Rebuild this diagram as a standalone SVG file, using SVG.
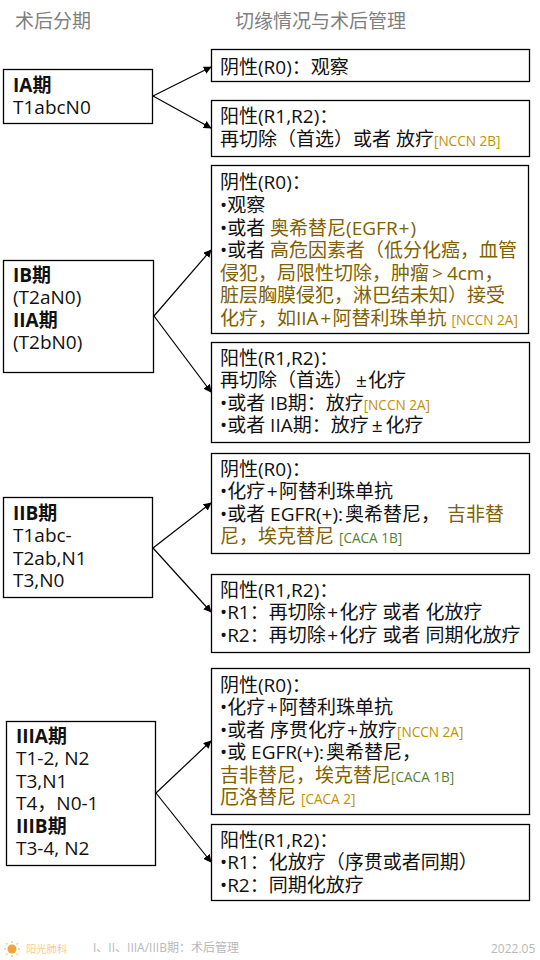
<svg xmlns="http://www.w3.org/2000/svg" width="540" height="960" viewBox="0 0 540 960">
<defs>
<marker id="arr" viewBox="0 0 10 10" refX="9" refY="5" markerWidth="8" markerHeight="8" orient="auto" markerUnits="userSpaceOnUse"><path d="M0 0L10 5L0 10Z" fill="#000"/></marker>
</defs>
<style>
text{font-family:"Open Sans","Noto Sans CJK SC",sans-serif;font-size:19px;fill:#111}
.box{fill:#fff;stroke:#000;stroke-width:1.3}
.b{font-weight:700}
.g{fill:#806000}
.r{font-size:13.6px;fill:#bf9000}
.v{font-size:13.6px;fill:#548235}
.h{fill:#7f7f7f}
.f{font-size:12px;fill:#b8b8b8}
.l{font-size:10.3px;fill:#f6cf8a}
.c{stroke:#000;stroke-width:1.2;fill:none;marker-end:url(#arr)}
</style>
<rect width="540" height="960" fill="#fff"/>
<text id="title-left" class="h" x="15" y="28">术后分期</text>
<text id="title-right" class="h" x="235" y="28">切缘情况与术后管理</text>
<g id="connectors">
<path class="c" d="M153 96L211 67"/><path class="c" d="M153 96L211 128"/>
<path class="c" d="M154 316L211 250"/><path class="c" d="M154 316L211 392"/>
<path class="c" d="M153 548L211 503"/><path class="c" d="M153 548L211 612"/>
<path class="c" d="M156 793L211 741"/><path class="c" d="M156 793L211 862"/>
</g>
<g id="n-ia"><rect class="box" x="3.500" y="69.500" width="149" height="54"/>
<text x="13" y="92" class="b">IA期</text><text x="13" y="114">T1abcN0</text></g>
<g id="n-ib"><rect class="box" x="3.500" y="260.500" width="150" height="112"/>
<text x="13" y="282" class="b">IB期</text><text x="13" y="304">(T2aN0)</text><text x="13" y="327" class="b">IIA期</text><text x="13" y="349">(T2bN0)</text></g>
<g id="n-iib"><rect class="box" x="3.500" y="497.500" width="149" height="100"/>
<text x="13" y="520" class="b">IIB期</text><text x="13" y="542">T1abc-</text><text x="13" y="565">T2ab,N1</text><text x="13" y="587">T3,N0</text></g>
<g id="n-iii"><rect class="box" x="6.500" y="721.500" width="149" height="144"/>
<text x="16" y="743" class="b">IIIA期</text><text x="16" y="765">T1-2, N2</text><text x="16" y="788">T3,N1</text><text x="16" y="810">T4，N0-1</text><text x="16" y="833" class="b">IIIB期</text><text x="16" y="855">T3-4, N2</text></g>
<g id="n-ia-r0"><rect class="box" x="211.500" y="49.500" width="318" height="32"/>
<text x="220" y="74">阴性(R0)：观察</text></g>
<g id="n-ia-r1"><rect class="box" x="211.500" y="100.500" width="318" height="56"/>
<text x="220" y="123">阳性(R1,R2)：</text><text x="220" y="146">再切除（首选）或者 放疗<tspan class="r">[NCCN 2B]</tspan></text></g>
<g id="n-ib-r0"><rect class="box" x="211.500" y="165.500" width="317" height="168"/>
<text x="220" y="189">阴性(R0)：</text><text x="220" y="212">•观察</text><text x="220" y="235">•或者 <tspan class="g">奥希替尼(EGFR<tspan dx="1">+</tspan><tspan dx="1">)</tspan></tspan></text><text x="220" y="257">•或者 <tspan class="g">高危因素者（低分化癌，血管</tspan></text><text x="220" y="280" class="g">侵犯，局限性切除，肿瘤<tspan dx="3">&gt;</tspan><tspan dx="4">4cm</tspan>，</text><text x="220" y="302" class="g">脏层胸膜侵犯，淋巴结未知）接受</text><text x="220" y="325" class="g">化疗，如IIA<tspan dx="1.500">+</tspan><tspan dx="1.500">阿替利珠单抗</tspan> <tspan class="r">[NCCN 2A]</tspan></text></g>
<g id="n-ib-r1"><rect class="box" x="211.500" y="342.500" width="318" height="100"/>
<text x="220" y="365">阳性(R1,R2)：</text><text x="220" y="387">再切除（首选）<tspan dx="3">±</tspan><tspan dx="1">化疗</tspan></text><text x="220" y="410">•或者 IB期：放疗<tspan class="r">[NCCN 2A]</tspan></text><text x="220" y="432">•或者 IIA期：放疗<tspan dx="3">±</tspan><tspan dx="3">化疗</tspan></text></g>
<g id="n-iib-r0"><rect class="box" x="211.500" y="453.500" width="318" height="100"/>
<text x="220" y="476">阴性(R0)：</text><text x="220" y="498">•化疗<tspan dx="1.500">+</tspan><tspan dx="1.500">阿替利珠单抗</tspan></text><text x="220" y="521">•或者 EGFR(+):<tspan dx="2">奥希替尼，</tspan><tspan class="g" dx="7">吉非替</tspan></text><text x="220" y="543"><tspan class="g">尼，埃克替尼</tspan> <tspan class="v">[CACA 1B]</tspan></text></g>
<g id="n-iib-r1"><rect class="box" x="211.500" y="574.500" width="318" height="78"/>
<text x="220" y="597">阳性(R1,R2)：</text><text x="220" y="619">•R1：再切除<tspan dx="1.500">+</tspan><tspan dx="1.500">化疗</tspan> 或者 化放疗</text><text x="220" y="642">•R2：再切除<tspan dx="1.500">+</tspan><tspan dx="1.500">化疗</tspan> 或者 同期化放疗</text></g>
<g id="n-iii-r0"><rect class="box" x="211.500" y="668.500" width="318" height="146"/>
<text x="220" y="692">阴性(R0)：</text><text x="220" y="714">•化疗<tspan dx="1.500">+</tspan><tspan dx="1.500">阿替利珠单抗</tspan></text><text x="220" y="737">•或者 序贯化疗<tspan dx="1">+</tspan><tspan dx="1">放疗</tspan><tspan class="r">[NCCN 2A]</tspan></text><text x="220" y="759">•或 EGFR(+):<tspan dx="2">奥希替尼，</tspan></text><text x="220" y="782"><tspan class="g">吉非替尼，埃克替尼</tspan><tspan class="v">[CACA 1B]</tspan></text><text x="220" y="804"><tspan class="g">厄洛替尼</tspan> <tspan class="r">[CACA 2]</tspan></text></g>
<g id="n-iii-r1"><rect class="box" x="211.500" y="824.500" width="318" height="76"/>
<text x="220" y="847">阳性(R1,R2)：</text><text x="220" y="869">•R1：化放疗（序贯或者同期）</text><text x="220" y="892">•R2：同期化放疗</text></g>
<g id="footer">
<g id="logo"><circle cx="12" cy="949" r="4.500" fill="#f2a33a"/><g stroke="#f6cf8a" stroke-width="1.500"><path d="M4 949H6M18 949H20M12 941V943M12 955V957M6 943L7.500 944.500M18 943L16.500 944.500M6 955L7.500 953.500M18 955L16.500 953.500"/></g></g>
<text x="26" y="953" class="l">阳光肺科</text>
<text x="93" y="952" class="f">I、II、IIIA/IIIB期：术后管理</text>
<text x="491" y="953" class="f">2022.05</text>
</g>
</svg>
